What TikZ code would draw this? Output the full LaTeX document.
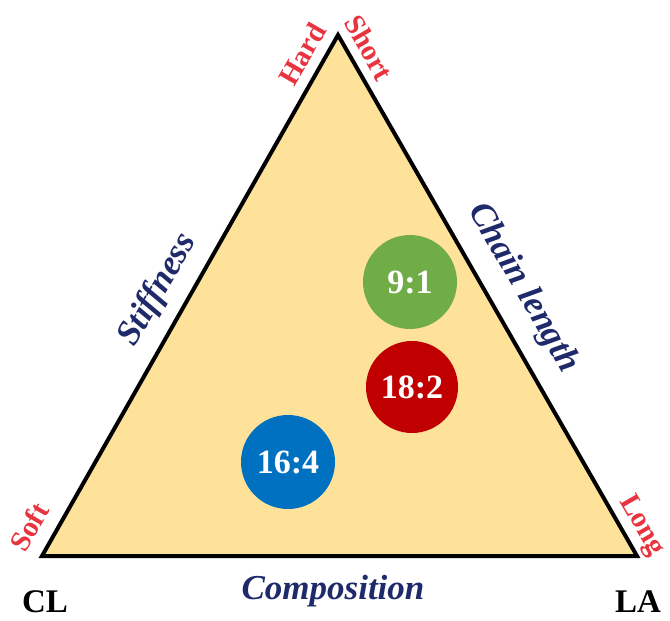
\documentclass[tikz,border=0pt]{standalone}
\usepackage{fontspec}
\setmainfont{Liberation Serif}
\usepackage{xcolor}
\usepackage{tikz}
\usetikzlibrary{positioning,calc}
\definecolor{ternfill}{HTML}{FFE29A}
\definecolor{ternnavy}{HTML}{1F2A6B}
\definecolor{ternred}{HTML}{E8343F}
\definecolor{dotgreen}{HTML}{70AD47}
\definecolor{dotred}{HTML}{C00000}
\definecolor{dotblue}{HTML}{0070C0}
\tikzset{
  trishape/.style={draw=black, fill=ternfill, line width=2pt, line join=miter},
  endlabel/.style={text=ternred, font=\fontsize{14.5}{16}\selectfont\bfseries, inner sep=0pt},
  axislabel/.style={text=ternnavy, font=\fontsize{17.5}{20}\selectfont\bfseries\itshape, inner sep=0pt},
  cornerlabel/.style={text=black, font=\fontsize{16.5}{18}\selectfont\bfseries, inner sep=0pt},
  ratiodot/.style={circle, minimum size=47pt, inner sep=0pt, text=white, font=\fontsize{17}{19}\selectfont\bfseries}
}

\begin{document}
\begin{tikzpicture}[x=0.5pt, y=-0.5pt]
  \useasboundingbox (0,0) rectangle (670,621);
  % triangle corners
  \coordinate (top) at (338,35);
  \coordinate (left) at (42,556);
  \coordinate (right) at (637,556);
  \draw[trishape] (left) -- (top) -- (right) -- cycle;

  % property ends
  \node[endlabel, rotate=60] (hard) at (302,54) {Hard};
  \node[endlabel, rotate=-60] (short) at (369,48) {Short};
  \node[endlabel, rotate=60] (soft) at (29,527) {Soft};
  \node[endlabel, rotate=-60] (long) at (641,526) {Long};

  % axes
  \node[axislabel, rotate=60] (stiff) at (158,290) {Stiffness};
  \node[axislabel, rotate=-60] (chain) at (523,288) {Chain length};
  \node[axislabel] (comp) at (333,591) {Composition};
  \node[cornerlabel] (cl) at (45,602) {CL};
  \node[cornerlabel] (la) at (638,602) {LA};

  % ratios
  \node[ratiodot, fill=dotgreen] (r91) at (410,282) {9:1};
  \node[ratiodot, fill=dotred, minimum size=46pt] (r182) at (412,387) {18:2};
  \node[ratiodot, fill=dotblue] (r164) at (288,462) {16:4};
\end{tikzpicture}
\end{document}
